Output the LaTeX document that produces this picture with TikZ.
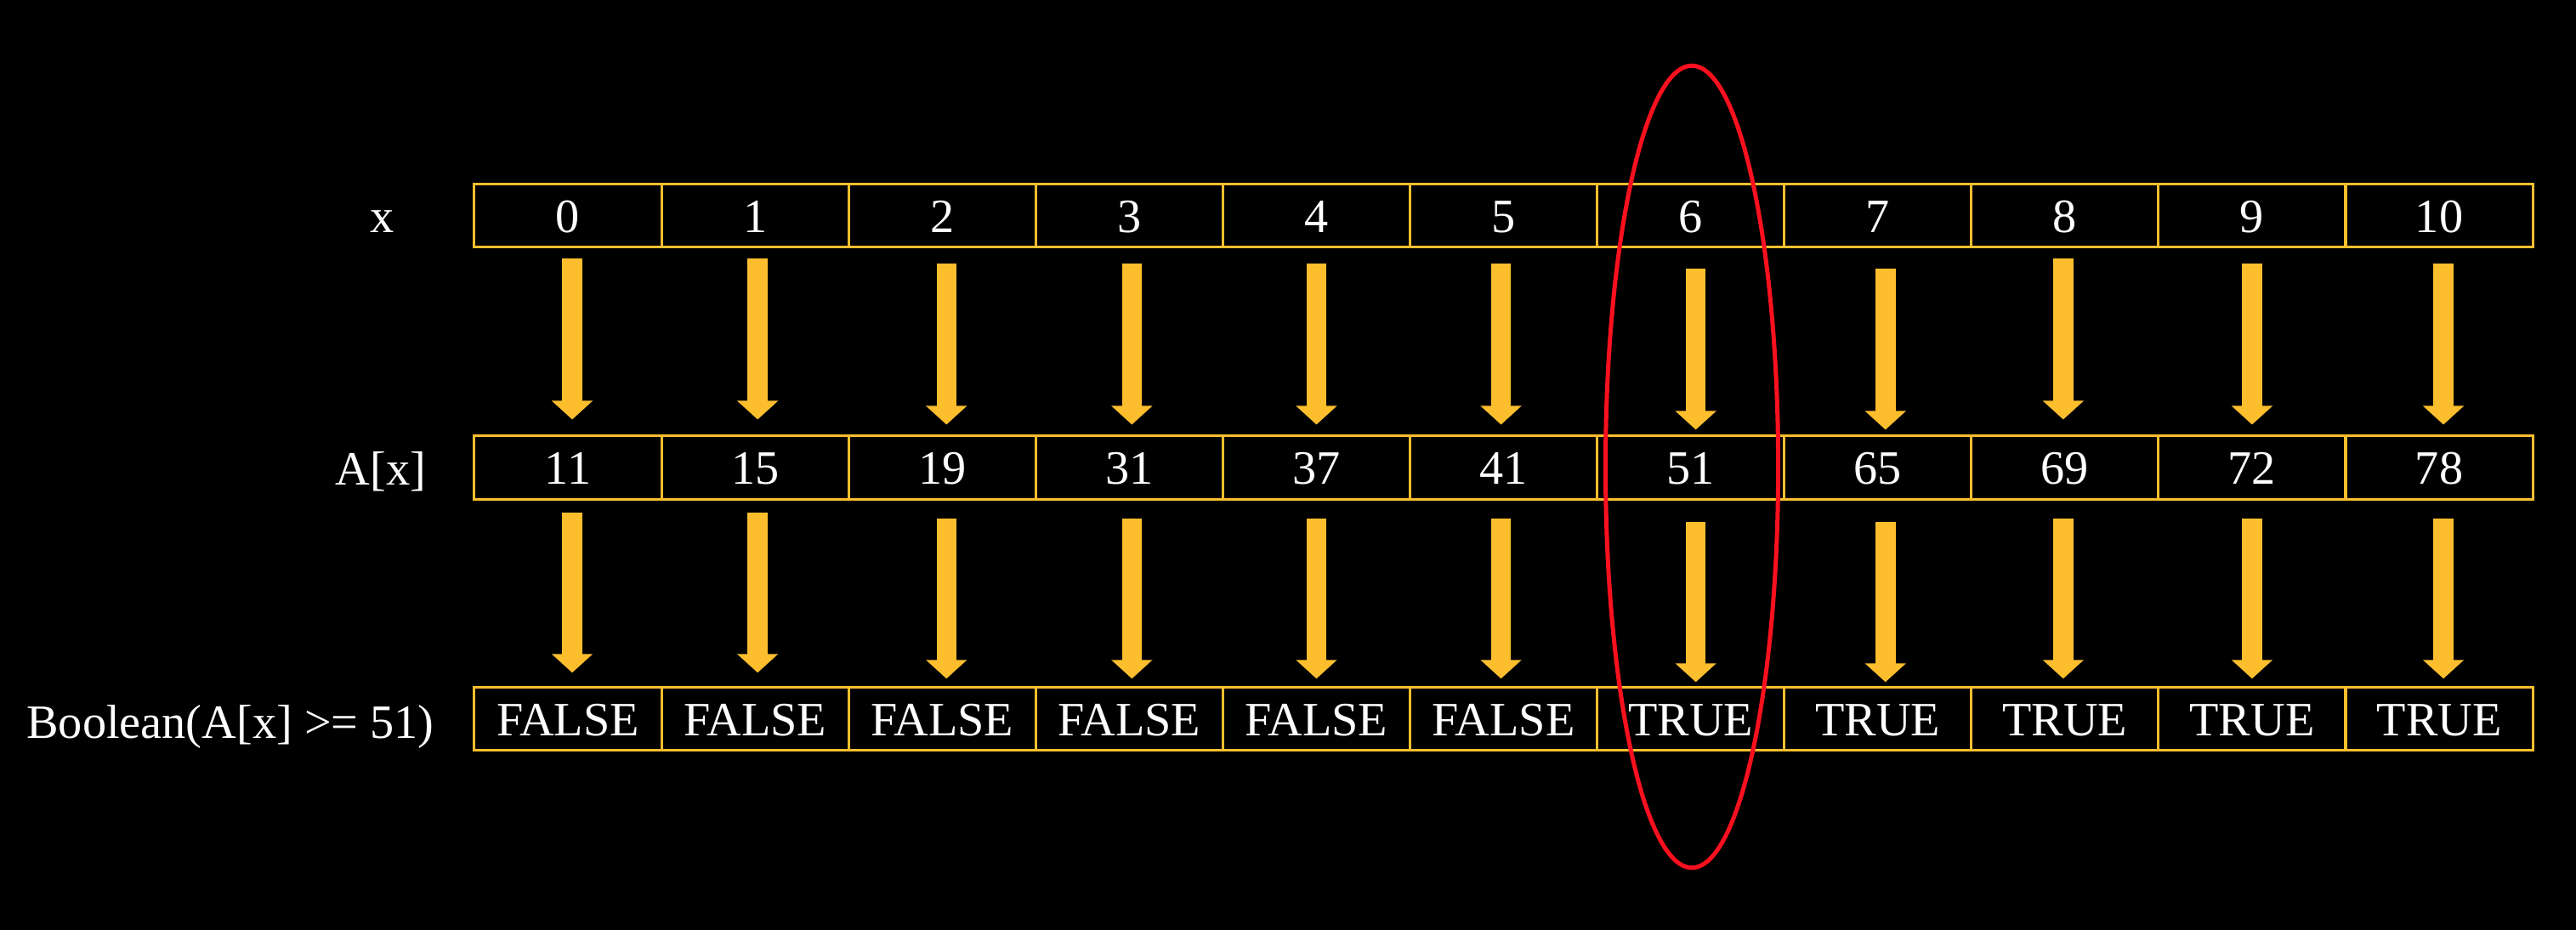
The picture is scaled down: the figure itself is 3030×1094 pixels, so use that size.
\documentclass[tikz,border=0pt]{standalone}
\usepackage{fontspec}
\setmainfont{Liberation Serif}
\usetikzlibrary{arrows.meta,calc,shapes.geometric}
\definecolor{boxorange}{RGB}{253,190,46}
\definecolor{arroworange}{RGB}{253,190,46}
\definecolor{ringred}{RGB}{250,16,30}
\begin{document}
\begin{tikzpicture}[x=0.01cm,y=-0.01cm,
  cell/.style={draw=boxorange, line width=0.03cm, rectangle, minimum width=2.201cm,
    minimum height=0.74cm, inner sep=0pt, text=white,
    font=\fontsize{16pt}{19pt}\selectfont, text height=0.39cm, text depth=0pt},
  rowlabel/.style={text=white, font=\fontsize{16pt}{19pt}\selectfont, inner sep=0pt, anchor=base},
  flow/.style={draw=arroworange, line width=0.235cm,
    -{Triangle[width=0.47cm,length=0.22cm]}, fill=arroworange},
  ringstyle/.style={draw=ringred, line width=0.05cm, ellipse, minimum width=2.03cm,
    minimum height=9.43cm, inner sep=0pt}]
\fill[black] (0,0) rectangle (3030,1094);
\useasboundingbox (0,0) rectangle (3030,1094);

\node[rowlabel] (lx) at (450,273) {x};
\node[rowlabel] (la) at (448,570) {A[x]};
\node[rowlabel] (lb) at (271,868) {Boolean(A[x] >= 51)};

\foreach \i/\a/\b/\c/\dx/\ta/\tb in {0/0/11/FALSE/5/304/602, 1/1/15/FALSE/3/304/602,
  2/2/19/FALSE/5/310/609, 3/3/31/FALSE/3/310/609, 4/4/37/FALSE/0/310/609,
  5/5/41/FALSE/-3/310/609, 6/6/51/TRUE/6/316/613, 7/7/65/TRUE/9/316/613,
  8/8/69/TRUE/-2/304/609, 9/9/72/TRUE/0/310/609, 10/10/78/TRUE/5/310/609}{
  \node[cell] (t\i) at ({668.05+220.1*\i},253.7) {\a};
  \node[cell] (m\i) at ({668.05+220.1*\i},550) {\b};
  \node[cell] (b\i) at ({668.05+220.1*\i},845.85) {\c};
  \draw[flow] ($(t\i.south)+(\dx,\ta-292)$) -- ($(m\i.north)+(\dx,\ta+190-512)$);
  \draw[flow] ($(m\i.south)+(\dx,\tb-588)$) -- ($(b\i.north)+(\dx,\tb+190-808)$);
}

\node[ringstyle] (ring) at ($(m6.center)+(1.4,-1)$) {};
\end{tikzpicture}
\end{document}
